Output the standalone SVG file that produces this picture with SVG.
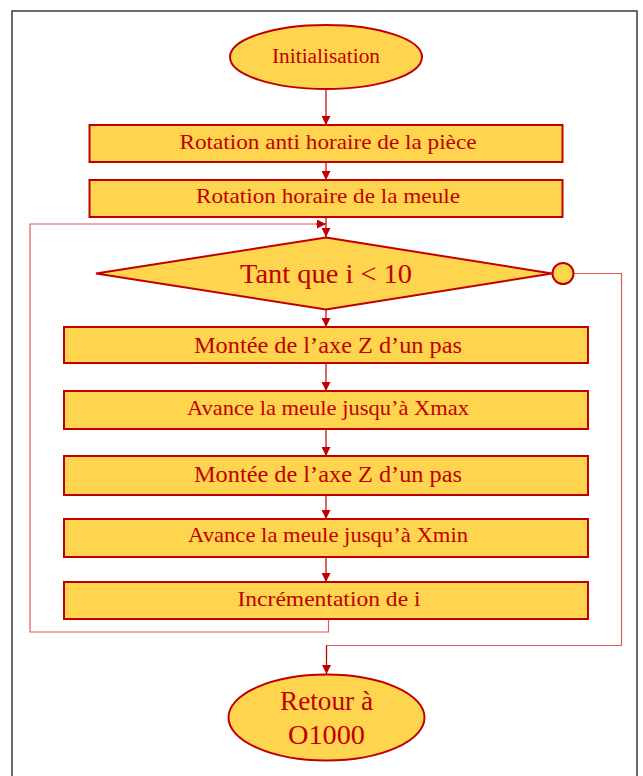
<svg xmlns="http://www.w3.org/2000/svg" width="643" height="776" viewBox="0 0 643 776">
<style>
.box{fill:#FFD44F;stroke:#C00000;stroke-width:2}
.t{font-family:"Liberation Serif","DejaVu Serif",serif;fill:#C00000;text-anchor:middle}
.arr{fill:none;stroke:#C00000;stroke-width:1.2;marker-end:url(#ah)}
.loop{fill:none;stroke:#E05A5A;stroke-width:1.2}
</style>
<defs>
<marker id="ah" viewBox="0 0 10 10" refX="10" refY="5" markerWidth="9" markerHeight="9" markerUnits="userSpaceOnUse" orient="auto">
<path d="M0,0 L10,5 L0,10 z" fill="#C00000"/>
</marker>
</defs>
<rect x="12" y="11" width="625" height="790" fill="#fff" stroke="#3a3a3a" stroke-width="1.5"/>
<g id="connectors">
<path class="arr" d="M326,89 V125"/>
<path class="arr" d="M326,162 V180"/>
<path class="arr" d="M326,217 V237"/>
<path class="arr" d="M326,309 V327"/>
<path class="arr" d="M326,363 V391"/>
<path class="arr" d="M326,429 V456"/>
<path class="arr" d="M326,495 V519"/>
<path class="arr" d="M326,557 V582"/>
<path class="loop" d="M328.5,619 V632 H30 V224 H318"/>
<path class="arr" d="M316,224 H326" stroke="#C00000"/>
<path class="loop" d="M574,273.5 H621.5 V645.5 H326.5 V660"/>
<path class="arr" d="M326.5,645.5 V674"/>
</g>
<g id="init">
<ellipse class="box" cx="326" cy="57" rx="96" ry="32"/>
<text class="t" x="326" y="63" font-size="20" textLength="108" lengthAdjust="spacingAndGlyphs">Initialisation</text>
</g>
<g id="rot1">
<rect class="box" x="89.5" y="125" width="473" height="37"/>
<text class="t" x="328" y="149" font-size="22" textLength="297" lengthAdjust="spacingAndGlyphs">Rotation anti horaire de la pièce</text>
</g>
<g id="rot2">
<rect class="box" x="89.5" y="180" width="473" height="37"/>
<text class="t" x="328" y="203" font-size="22" textLength="264" lengthAdjust="spacingAndGlyphs">Rotation horaire de la meule</text>
</g>
<g id="loopcond">
<polygon class="box" points="326,237.5 552,273.5 326,309.5 96,273.5"/>
<circle class="box" cx="563" cy="273.5" r="10.5"/>
<text class="t" x="326" y="283" font-size="27" textLength="172" lengthAdjust="spacingAndGlyphs">Tant que i &lt; 10</text>
</g>
<g id="monte1">
<rect class="box" x="64" y="327" width="524" height="36"/>
<text class="t" x="328" y="353" font-size="24" textLength="268" lengthAdjust="spacingAndGlyphs">Montée de l’axe Z d’un pas</text>
</g>
<g id="avmax">
<rect class="box" x="64" y="391" width="524" height="38"/>
<text class="t" x="328" y="415" font-size="21" textLength="282" lengthAdjust="spacingAndGlyphs">Avance la meule jusqu’à Xmax</text>
</g>
<g id="monte2">
<rect class="box" x="64" y="456" width="524" height="39"/>
<text class="t" x="328" y="482" font-size="24" textLength="268" lengthAdjust="spacingAndGlyphs">Montée de l’axe Z d’un pas</text>
</g>
<g id="avmin">
<rect class="box" x="64" y="519" width="524" height="38"/>
<text class="t" x="328" y="542" font-size="21" textLength="280" lengthAdjust="spacingAndGlyphs">Avance la meule jusqu’à Xmin</text>
</g>
<g id="incr">
<rect class="box" x="64" y="582" width="524" height="37"/>
<text class="t" x="329" y="606" font-size="21" textLength="183" lengthAdjust="spacingAndGlyphs">Incrémentation de i</text>
</g>
<g id="retour">
<ellipse class="box" cx="326.5" cy="717.5" rx="98" ry="43"/>
<text class="t" x="326.5" y="710" font-size="27" textLength="93" lengthAdjust="spacingAndGlyphs">Retour à</text>
<text class="t" x="326.5" y="744" font-size="27" textLength="77" lengthAdjust="spacingAndGlyphs">O1000</text>
</g>
</svg>
